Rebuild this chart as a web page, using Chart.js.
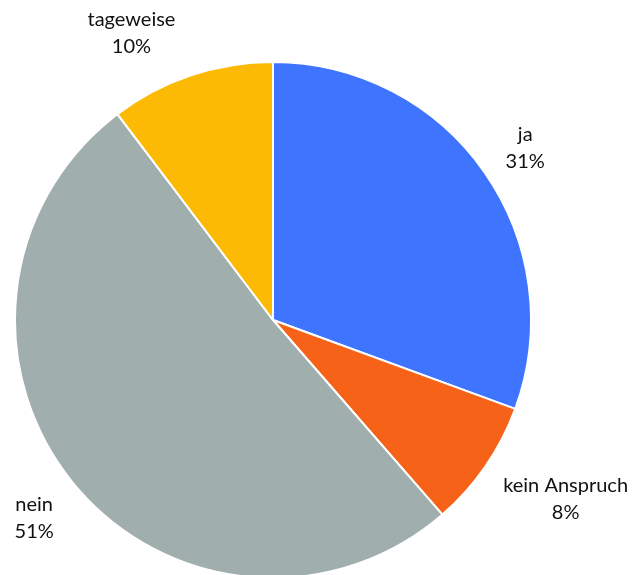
<!DOCTYPE html>
<html>
<head>
<meta charset="utf-8">
<script src="https://cdn.jsdelivr.net/npm/chart.js@4"></script>
<style>
    html, body { margin: 0; padding: 0; background: #fff; }
    canvas { display: block; }
</style>
</head>
<body>
<canvas id="pieChart" width="640" height="575"></canvas>
<script>
// Chart data
const categories = ['ja', 'kein Anspruch', 'nein', 'tageweise'];
const shares = [30.6, 8.0, 51.1, 10.3];
const sliceColors = ['#3E74FE', '#F66318', '#A0AFAE', '#FDBA05'];

// Draws "name / xx%" labels outside each slice
const outsideLabels = {
    id: 'outsideLabels',
    afterDatasetsDraw(chart, args, opts) {
        const ctx = chart.ctx;
        const meta = chart.getDatasetMeta(0);
        const total = shares.reduce((a, b) => a + b, 0);
        const lineH = 27;
        ctx.save();
        ctx.font = '20px Lato, "Noto Sans", sans-serif';
        ctx.fillStyle = '#111';
        ctx.textAlign = 'center';
        ctx.textBaseline = 'middle';
        meta.data.forEach(function(arc, i) {
            const p = arc.getProps(['x', 'y', 'startAngle', 'endAngle', 'outerRadius'], true);
            const mid = (p.startAngle + p.endAngle) / 2;
            const dx = Math.cos(mid);
            const dy = Math.sin(mid);
            const lines = [categories[i], Math.round(shares[i] / total * 100) + '%'];
            const w = Math.max.apply(null, lines.map(t => ctx.measureText(t).width));
            const h = lineH * lines.length;
            const r = p.outerRadius + 30;
            const nudge = opts.nudge[i] || [0, 0];
            let cx = p.x + dx * r + dx * w / 2 + nudge[0];
            let cy = p.y + dy * r + dy * h / 2 + nudge[1];
            // keep the box inside the canvas
            cy = Math.max(cy, h / 2 + 6);
            cx = Math.min(Math.max(cx, w / 2 + 4), chart.width - w / 2 - 4);
            lines.forEach(function(t, k) {
                ctx.fillText(t, cx, cy - h / 2 + lineH / 2 + k * lineH);
            });
        });
        ctx.restore();
    }
};

new Chart(document.getElementById('pieChart').getContext('2d'), {
    type: 'pie',
    data: {
        labels: categories,
        datasets: [{
            data: shares,
            backgroundColor: sliceColors,
            borderColor: '#fff',
            borderWidth: 2,
            radius: 258
        }]
    },
    options: {
        responsive: false,
        animation: false,
        layout: {
            padding: { left: 0, right: 94, top: 65, bottom: 0 }
        },
        plugins: {
            legend: { display: false },
            tooltip: { enabled: false },
            outsideLabels: {
                nudge: [[0, 8], [4, 0], [0, 0], [-36, 0]]
            }
        }
    },
    plugins: [outsideLabels]
});
</script>
</body>
</html>
